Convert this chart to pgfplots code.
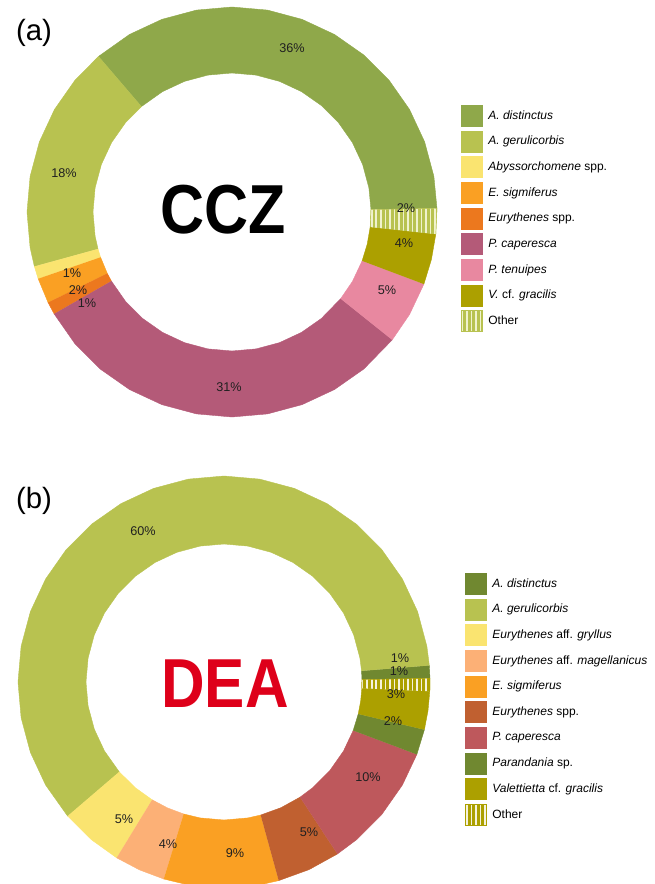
\documentclass[border=0pt]{standalone}
\usepackage{pgfplots}
\pgfplotsset{compat=1.18}
\usetikzlibrary{patterns.meta}
\usepackage{fontspec}
\setmainfont{Liberation Sans}

% CCZ colours
\definecolor{cA}{HTML}{8FA84A}
\definecolor{cB}{HTML}{B8C250}
\definecolor{cC}{HTML}{FAE470}
\definecolor{cD}{HTML}{FAA023}
\definecolor{cE}{HTML}{EC781E}
\definecolor{cF}{HTML}{B45A78}
\definecolor{cG}{HTML}{E888A0}
\definecolor{cH}{HTML}{ACA000}
\definecolor{cOa}{HTML}{F0F2CD}
% DEA colours
\definecolor{dA}{HTML}{708830}
\definecolor{dM}{HTML}{FCB076}
\definecolor{dE}{HTML}{C06030}
\definecolor{dF}{HTML}{BE585C}
\definecolor{dOb}{HTML}{F5F2DC}
\definecolor{deared}{HTML}{DE001A}
\definecolor{lbl}{HTML}{202020}

\pgfplotsset{
  donut/.style={
    hide axis, scale only axis, clip=false,
    x=0.75pt, y=0.75pt,
    xmin=-210, xmax=210, ymin=-210, ymax=210,
    anchor=origin,
    legend image code/.code={\fill[##1] (0pt,-7.9pt) rectangle (15.8pt,7.9pt);},
    legend cell align=left,
    legend style={draw=none, fill=none, anchor=north west, inner sep=0pt, outer sep=0pt,
      font=\fontsize{9}{10}\selectfont, row sep=3.15pt, column sep=2.4pt},
  },
  slice/.style={data cs=polar, fill=#1, draw=#1, line width=0.3pt},
  other/.style n args={2}{data cs=polar, fill=#1, draw=#1, line width=0.3pt,
    postaction={pattern={Lines[angle=90,distance=3.4pt,line width=1.2pt]}, pattern color=#2}},
}
\newcommand{\pct}[3]{\node[text=lbl, font=\fontsize{9.5}{10}\selectfont] at (axis cs:#1,#2) {#3\%};}

\begin{document}
\begin{tikzpicture}
\path[use as bounding box, clip] (0pt,0pt) rectangle (490.5pt,-663pt);

\node[font=\fontsize{22}{24}\selectfont] at (25.5pt,-24.75pt) {(a)};
\node[font=\fontsize{22}{24}\selectfont] at (25.5pt,-375.75pt) {(b)};

% (a) CCZ: 36, 18, 1, 2, 1, 31, 5, 4, 2 %  (counter-clockwise from 1 deg)
\begin{axis}[donut, at={(174pt,-159pt)},
  legend style={at={(axis cs:229,107)}}]
\addplot[slice=cA] coordinates {(1,205) (10,205) (20,205) (30,205) (40,205) (50,205) (60,205) (70,205) (80,205) (90,205) (100,205) (110,205) (120,205) (130.6,205)
  (130.6,139) (120,139) (110,139) (100,139) (90,139) (80,139) (70,139) (60,139) (50,139) (40,139) (30,139) (20,139) (10,139) (1,139)};
\addlegendentry{\textit{A. distinctus}}
\addplot[slice=cB] coordinates {(130.6,205) (140,205) (150,205) (160,205) (170,205) (180,205) (190,205) (195.4,205)
  (195.4,139) (190,139) (180,139) (170,139) (160,139) (150,139) (140,139) (130.6,139)};
\addlegendentry{\textit{A. gerulicorbis}}
\addplot[slice=cC] coordinates {(195.4,205) (199,205) (199,139) (195.4,139)};
\addlegendentry{\textit{Abyssorchomene} spp.}
\addplot[slice=cD] coordinates {(199,205) (206.2,205) (206.2,139) (199,139)};
\addlegendentry{\textit{E. sigmiferus}}
\addplot[slice=cE] coordinates {(206.2,205) (209.8,205) (209.8,139) (206.2,139)};
\addlegendentry{\textit{Eurythenes} spp.}
\addplot[slice=cF] coordinates {(209.8,205) (220,205) (230,205) (240,205) (250,205) (260,205) (270,205) (280,205) (290,205) (300,205) (310,205) (321.4,205)
  (321.4,139) (310,139) (300,139) (290,139) (280,139) (270,139) (260,139) (250,139) (240,139) (230,139) (220,139) (209.8,139)};
\addlegendentry{\textit{P. caperesca}}
\addplot[slice=cG] coordinates {(321.4,205) (330,205) (339.4,205) (339.4,139) (330,139) (321.4,139)};
\addlegendentry{\textit{P. tenuipes}}
\addplot[slice=cH] coordinates {(339.4,205) (346.6,205) (353.8,205) (353.8,139) (346.6,139) (339.4,139)};
\addlegendentry{\textit{V.} cf. \textit{gracilis}}
\addplot[other={cB}{cOa}] coordinates {(353.8,205) (361,205) (361,139) (353.8,139)};
\addlegendentry{Other}

\pct{60}{164}{36}
\pct{-168}{39}{18}
\pct{-160}{-61}{1}
\pct{-154}{-78}{2}
\pct{-145}{-91}{1}
\pct{-3}{-175}{31}
\pct{155}{-78}{5}
\pct{172}{-31}{4}
\pct{174}{4}{2}
\node[font=\fontsize{52}{52}\selectfont\bfseries, xscale=0.88] at (axis cs:-9,2) {CCZ};
\end{axis}

% (b) DEA: 1, 60, 5, 4, 9, 5, 10, 2, 3, 1 %  (counter-clockwise from 1 deg)
\begin{axis}[donut, at={(168pt,-511.5pt)},
  legend style={at={(axis cs:241,109)}}]
\addplot[slice=dA] coordinates {(1,206) (4.6,206) (4.6,138) (1,138)};
\addlegendentry{\textit{A. distinctus}}
\addplot[slice=cB] coordinates {(4.6,206) (10,206) (20,206) (30,206) (40,206) (50,206) (60,206) (70,206) (80,206) (90,206) (100,206) (110,206) (120,206) (130,206) (140,206) (150,206) (160,206) (170,206) (180,206) (190,206) (200,206) (210,206) (220.6,206)
  (220.6,138) (210,138) (200,138) (190,138) (180,138) (170,138) (160,138) (150,138) (140,138) (130,138) (120,138) (110,138) (100,138) (90,138) (80,138) (70,138) (60,138) (50,138) (40,138) (30,138) (20,138) (10,138) (4.6,138)};
\addlegendentry{\textit{A. gerulicorbis}}
\addplot[slice=cC] coordinates {(220.6,206) (230,206) (238.6,206) (238.6,138) (230,138) (220.6,138)};
\addlegendentry{\textit{Eurythenes} aff. \textit{gryllus}}
\addplot[slice=dM] coordinates {(238.6,206) (245.8,206) (253,206) (253,138) (245.8,138) (238.6,138)};
\addlegendentry{\textit{Eurythenes} aff. \textit{magellanicus}}
\addplot[slice=cD] coordinates {(253,206) (260,206) (270,206) (280,206) (285.4,206) (285.4,138) (280,138) (270,138) (260,138) (253,138)};
\addlegendentry{\textit{E. sigmiferus}}
\addplot[slice=dE] coordinates {(285.4,206) (294.4,206) (303.4,206) (303.4,138) (294.4,138) (285.4,138)};
\addlegendentry{\textit{Eurythenes} spp.}
\addplot[slice=dF] coordinates {(303.4,206) (310,206) (320,206) (330,206) (339.4,206) (339.4,138) (330,138) (320,138) (310,138) (303.4,138)};
\addlegendentry{\textit{P. caperesca}}
\addplot[slice=dA] coordinates {(339.4,206) (346.6,206) (346.6,138) (339.4,138)};
\addlegendentry{\textit{Parandania} sp.}
\addplot[slice=cH] coordinates {(346.6,206) (352,206) (357.4,206) (357.4,138) (352,138) (346.6,138)};
\addlegendentry{\textit{Valettietta} cf. \textit{gracilis}}
\addplot[other={cH}{dOb}] coordinates {(357.4,206) (361,206) (361,138) (357.4,138)};
\addlegendentry{Other}

\pct{-81}{151}{60}
\pct{176}{24}{1}
\pct{175}{11}{1}
\pct{172}{-12}{3}
\pct{169}{-39}{2}
\pct{144}{-95}{10}
\pct{85}{-150}{5}
\pct{11}{-171}{9}
\pct{-56}{-162}{4}
\pct{-100}{-137}{5}
\node[text=deared, font=\fontsize{52}{52}\selectfont\bfseries, xscale=0.87] at (axis cs:1,-2) {DEA};
\end{axis}
\end{tikzpicture}
\end{document}
